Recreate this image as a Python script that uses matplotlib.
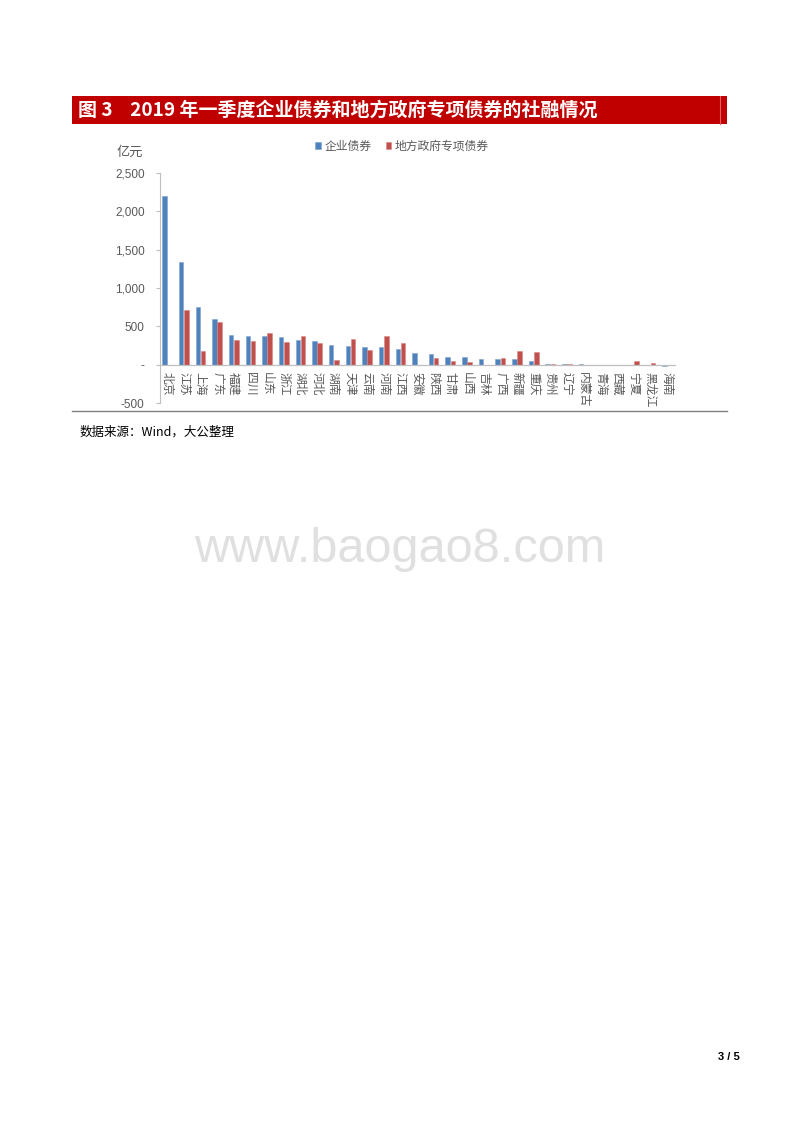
import matplotlib
matplotlib.use("Agg")
import matplotlib.pyplot as plt
from matplotlib.patches import Rectangle
import numpy as np

plt.rcParams['font.family'] = ['Noto Sans CJK SC', 'DejaVu Sans']

# 数据（亿元）
provinces = ["北京", "江苏", "上海", "广东", "福建", "四川", "山东", "浙江", "湖北", "河北",
             "湖南", "天津", "云南", "河南", "江西", "安徽", "陕西", "甘肃", "山西", "吉林",
             "广西", "新疆", "重庆", "贵州", "辽宁", "内蒙古", "青海", "西藏", "宁夏", "黑龙江", "海南"]
corp_bonds = [2200, 1335, 748, 600, 390, 378, 370, 365, 326, 304,
              261, 248, 226, 226, 205, 155, 133, 105, 105, 76,
              72, 68, 50, 13, 9, 4, 2, 0, 0, 2, -22]
special_bonds = [0, 717, 183, 552, 326, 313, 417, 300, 370, 287,
                 57, 339, 191, 370, 278, 0, 89, 48, 40, 0,
                 89, 172, 163, 4, 3, 0, 2, 0, 43, 17, 0]
yticks = [-500, 0, 500, 1000, 1500, 2000, 2500]
ytick_labels = ["-500", "-", "500", "1,000", "1,500", "2,000", "2,500"]

W, H = 800, 1132
fig = plt.figure(figsize=(W / 100, H / 100), dpi=100)

def fx(px):
    return px / W

def fy(py):
    return 1 - py / H

# 标题栏
fig.patches.append(Rectangle((fx(72), fy(124)), fx(655), 28 / H, transform=fig.transFigure,
                             facecolor="#C00000", edgecolor="none"))
fig.add_artist(plt.Line2D([fx(720), fx(720)], [fy(124), fy(96)], transform=fig.transFigure,
                          color="#E06060", linewidth=0.8))
fig.text(fx(78), fy(110), "图 3    2019 年一季度企业债券和地方政府专项债券的社融情况",
         color="white", fontsize=13.7, fontweight="bold", va="center", ha="left")

# 图表
ax = fig.add_axes([fx(160), fy(403), fx(516), 230 / H])
x = np.arange(len(provinces))
w = 0.27
ax.bar(x - 0.155, corp_bonds, w, color="#4F81BD", edgecolor="#7FA3D0", linewidth=0.4, label="企业债券")
ax.bar(x + 0.155, special_bonds, w, color="#C0504D", edgecolor="#D98683", linewidth=0.4, label="地方政府专项债券")

ax.set_xlim(-0.42, 30.54)
ax.set_ylim(-500, 2500)
ax.set_yticks(yticks)
ax.set_yticklabels(ytick_labels, color="#595959", fontsize=8.5, family=["Liberation Sans", "DejaVu Sans"])
ax.tick_params(axis="y", length=3, color="#BFBFBF", pad=8)
ax.set_xticks([])
for s in ["top", "right", "bottom"]:
    ax.spines[s].set_visible(False)
ax.spines["left"].set_color("#BFBFBF")
ax.axhline(0, color="#BFBFBF", linewidth=0.9)

# 分类标签（竖排）
for i, name in enumerate(provinces):
    ax.text(i, -95, name, rotation=-90, ha="center", va="top", fontsize=8.5, color="#595959")

fig.text(fx(130), fy(152), "亿元", color="#595959", fontsize=9.5, ha="center", va="center")
ax.legend(loc="center", bbox_to_anchor=(fx(402), fy(146)), bbox_transform=fig.transFigure,
          ncol=2, frameon=False, fontsize=8.5, handlelength=0.5, handleheight=0.5,
          handletextpad=0.3, columnspacing=1.2, labelcolor="#595959")

# 底部分隔线和来源
fig.add_artist(plt.Line2D([fx(72), fx(727)], [fy(411), fy(411)], transform=fig.transFigure,
                          color="#808080", linewidth=1))
fig.text(fx(80), fy(432), "数据来源：Wind，大公整理", fontsize=9, style="italic",
         ha="left", va="center", color="black")

# 水印
fig.text(fx(400), fy(550), "www.baogao8.com", fontsize=35, color="#E0E0E0",
         ha="center", va="center", family=["Liberation Sans", "DejaVu Sans"])

# 页码
fig.text(fx(740), fy(1057), "3 / 5", fontsize=8, fontweight="bold", ha="right", va="center",
         family=["Liberation Sans", "DejaVu Sans"])

plt.savefig("out.png", dpi=100)
